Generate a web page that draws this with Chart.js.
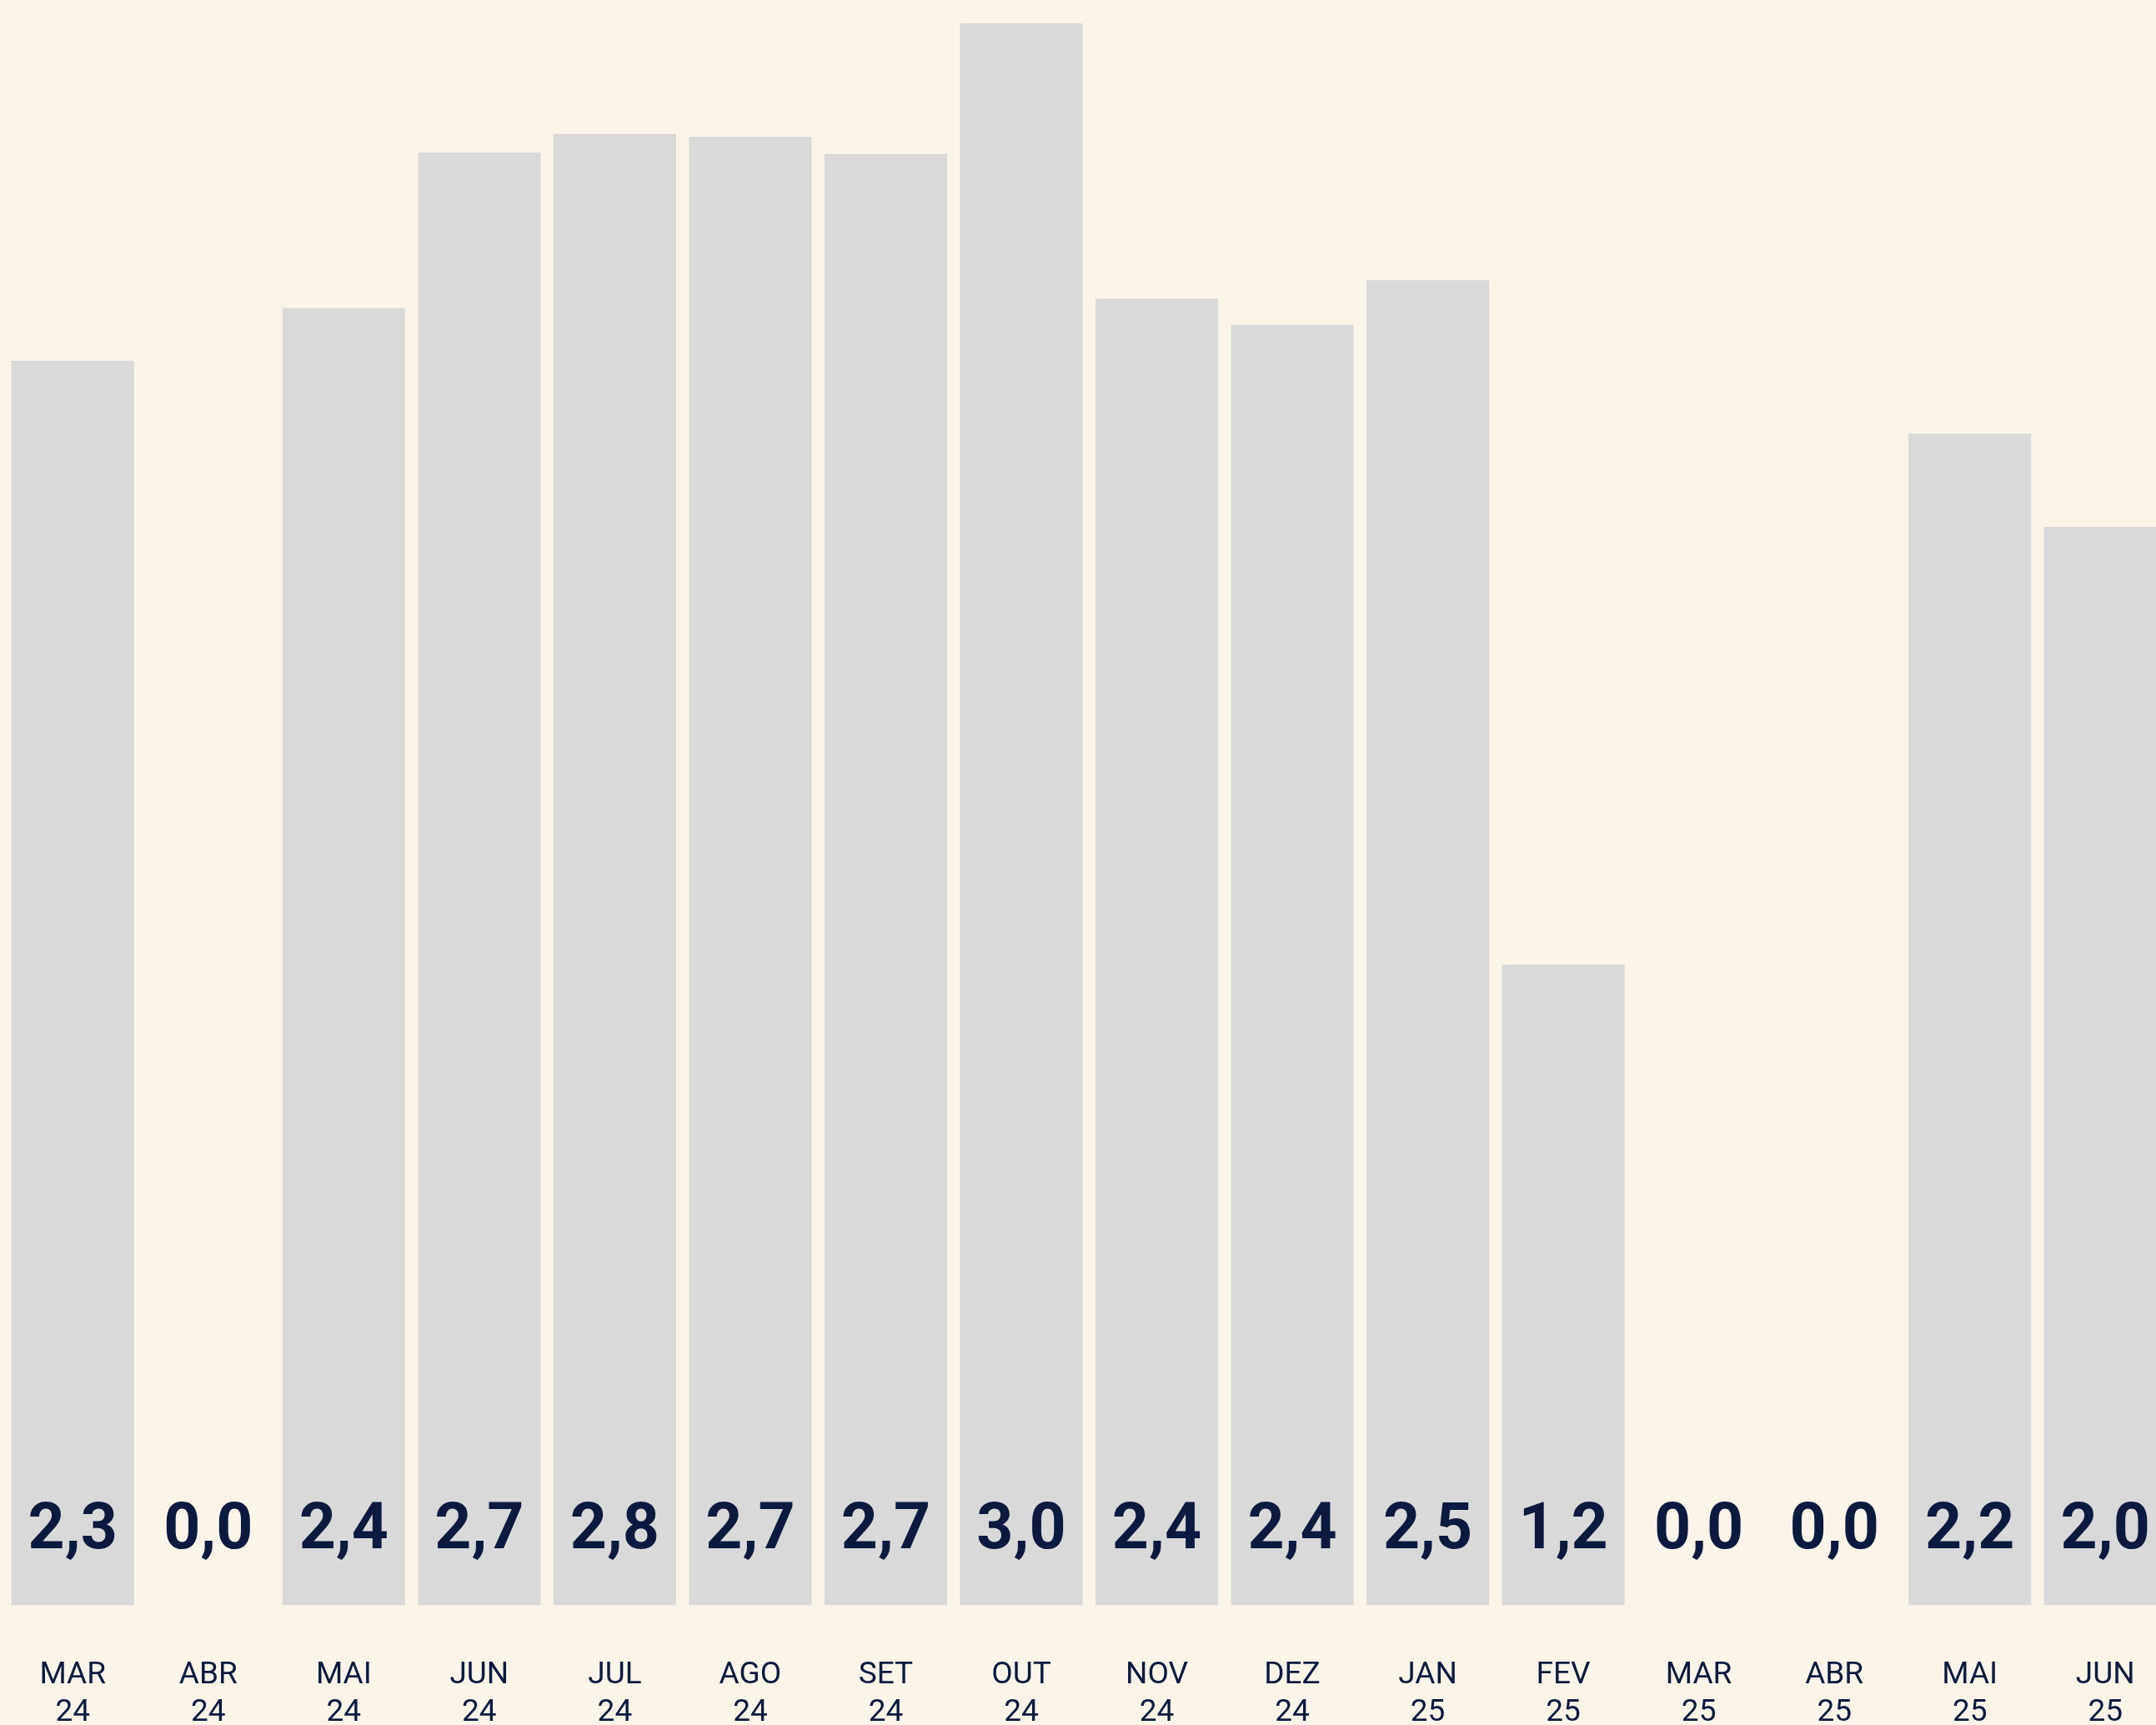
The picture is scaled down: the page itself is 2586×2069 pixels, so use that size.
<!DOCTYPE html>
<html>
<head>
<meta charset="utf-8">
<script src="https://cdn.jsdelivr.net/npm/chart.js@4.4.1/dist/chart.umd.min.js"></script>
<style>
  html, body { margin: 0; padding: 0; background: #fbf5e9; overflow: hidden; }
  canvas { display: block; }
</style>
</head>
<body>
<canvas id="graf" width="2614" height="2075" style="width:2614px;height:2075px"></canvas>
<script>
// meses (duas linhas por rótulo)
var meses = [
  ['MAR', '24'], ['ABR', '24'], ['MAI', '24'], ['JUN', '24'],
  ['JUL', '24'], ['AGO', '24'], ['SET', '24'], ['OUT', '24'],
  ['NOV', '24'], ['DEZ', '24'], ['JAN', '25'], ['FEV', '25'],
  ['MAR', '25'], ['ABR', '25'], ['MAI', '25'], ['JUN', '25']
];
// altura das barras
var valores = [2.36, 0, 2.46, 2.755, 2.79, 2.785, 2.752, 3.0, 2.478, 2.428, 2.513, 1.215, 0, 0, 2.222, 2.045];
// textos mostrados dentro das barras
var rotulos = ['2,3', '0,0', '2,4', '2,7', '2,8', '2,7', '2,7', '3,0', '2,4', '2,4', '2,5', '1,2', '0,0', '0,0', '2,2', '2,0'];

var azul = '#0c1a3f';

var rotulosPlugin = {
  id: 'rotulos',
  afterDatasetsDraw: function (chart) {
    var ctx = chart.ctx;
    var meta = chart.getDatasetMeta(0);
    var zero = chart.scales.y.getPixelForValue(0);
    ctx.save();
    ctx.fillStyle = azul;
    ctx.font = 'bold 77px Roboto';
    ctx.textAlign = 'center';
    ctx.textBaseline = 'alphabetic';
    meta.data.forEach(function (bar, i) {
      ctx.fillText(rotulos[i], bar.x, zero - 69);
    });
    ctx.restore();
  }
};

var ctx = document.getElementById('graf').getContext('2d');
var chart = new Chart(ctx, {
  type: 'bar',
  data: {
    labels: meses,
    datasets: [{
      data: valores,
      backgroundColor: '#d9d9d9',
      borderWidth: 0,
      barPercentage: 0.905,
      categoryPercentage: 1.0
    }]
  },
  options: {
    responsive: false,
    animation: false,
    devicePixelRatio: 1,
    layout: { padding: { top: 28, left: 6, right: 7.5, bottom: 2.5 } },
    plugins: { legend: { display: false }, tooltip: { enabled: false } },
    scales: {
      x: {
        grid: { display: false, drawTicks: false },
        border: { display: false },
        ticks: {
          color: azul,
          padding: 62,
          maxRotation: 0,
          autoSkip: false,
          font: { family: 'Roboto', size: 37, lineHeight: 1.22 }
        },
        afterFit: function (scale) {
          // altura fixa do eixo e sem folga lateral
          scale.height = 147;
          scale.paddingLeft = 0;
          scale.paddingRight = 0;
        }
      },
      y: {
        display: false,
        min: 0,
        max: 3.0
      }
    }
  },
  plugins: [rotulosPlugin]
});
</script>
</body>
</html>
